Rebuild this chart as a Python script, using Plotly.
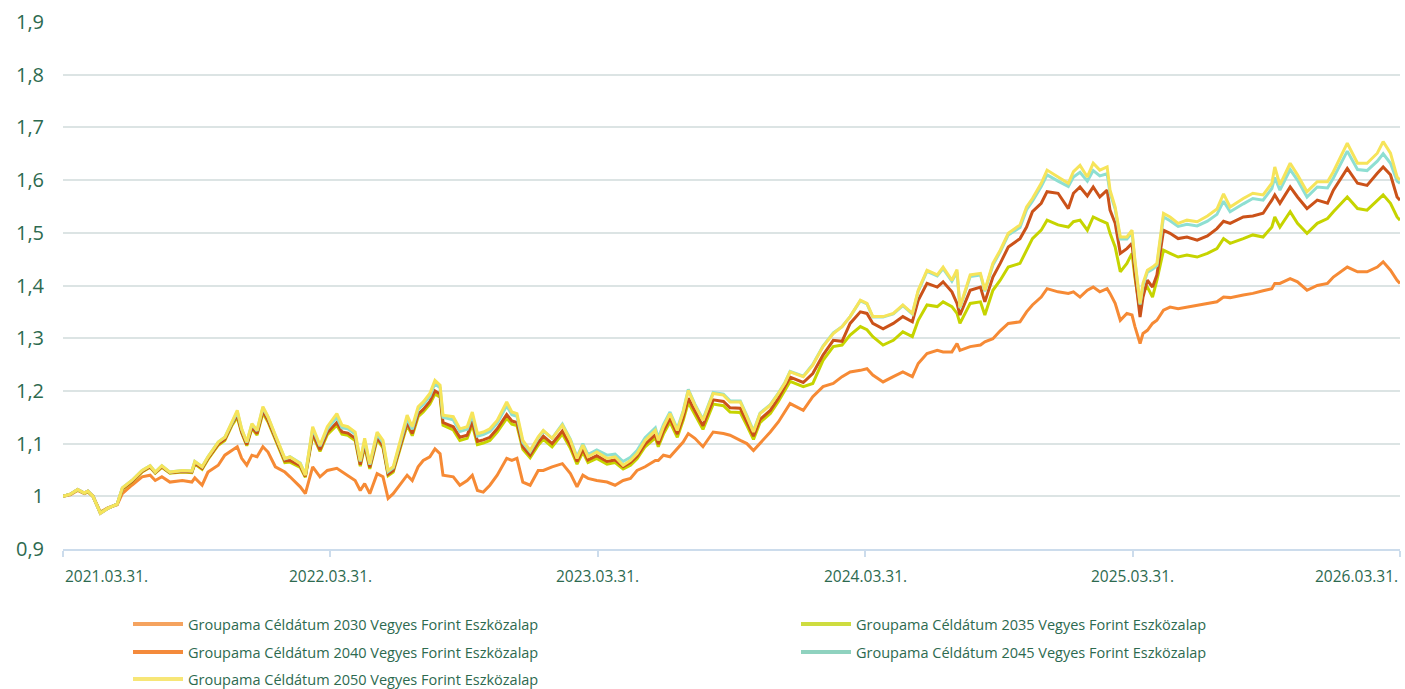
import plotly.graph_objects as go

dates = [
    "2021-03-31", "2021-04-10", "2021-04-20", "2021-04-29", "2021-05-04", "2021-05-11", "2021-05-21", "2021-05-31",
    "2021-06-13", "2021-06-20", "2021-07-03", "2021-07-17", "2021-07-28", "2021-08-04", "2021-08-13", "2021-08-24",
    "2021-09-10", "2021-09-23", "2021-09-27", "2021-10-07", "2021-10-15", "2021-10-29", "2021-11-07", "2021-11-17",
    "2021-11-24", "2021-11-30", "2021-12-07", "2021-12-14", "2021-12-21", "2021-12-29", "2022-01-05", "2022-01-15",
    "2022-01-28", "2022-02-04", "2022-02-18", "2022-02-25", "2022-03-07", "2022-03-17", "2022-03-27", "2022-04-09",
    "2022-04-16", "2022-04-24", "2022-05-04", "2022-05-11", "2022-05-17", "2022-05-24", "2022-06-03", "2022-06-11",
    "2022-06-18", "2022-06-25", "2022-07-04", "2022-07-14", "2022-07-21", "2022-07-29", "2022-08-05", "2022-08-14",
    "2022-08-21", "2022-08-28", "2022-09-01", "2022-09-15", "2022-09-24", "2022-10-04", "2022-10-11", "2022-10-18",
    "2022-10-26", "2022-11-04", "2022-11-14", "2022-11-27", "2022-12-04", "2022-12-11", "2022-12-19", "2022-12-29",
    "2023-01-09", "2023-01-16", "2023-01-28", "2023-02-11", "2023-02-22", "2023-03-03", "2023-03-11", "2023-03-18",
    "2023-03-30", "2023-04-13", "2023-04-24", "2023-05-05", "2023-05-15", "2023-05-24", "2023-06-04", "2023-06-18",
    "2023-06-22", "2023-06-29", "2023-07-08", "2023-07-18", "2023-07-26", "2023-08-02", "2023-08-11", "2023-08-22",
    "2023-09-05", "2023-09-19", "2023-09-28", "2023-10-12", "2023-10-21", "2023-10-30", "2023-11-08", "2023-11-22",
    "2023-12-03", "2023-12-12", "2023-12-19", "2024-01-06", "2024-01-19", "2024-02-02", "2024-02-16", "2024-02-28",
    "2024-03-10", "2024-03-24", "2024-04-02", "2024-04-10", "2024-04-24", "2024-05-08", "2024-05-21", "2024-06-03",
    "2024-06-11", "2024-06-23", "2024-07-07", "2024-07-15", "2024-07-27", "2024-08-03", "2024-08-07", "2024-08-21",
    "2024-09-04", "2024-09-10", "2024-09-21", "2024-10-01", "2024-10-12", "2024-10-28", "2024-11-06", "2024-11-14",
    "2024-11-26", "2024-12-04", "2024-12-19", "2025-01-02", "2025-01-09", "2025-01-18", "2025-01-28", "2025-02-05",
    "2025-02-14", "2025-02-24", "2025-02-28", "2025-03-07", "2025-03-14", "2025-03-23", "2025-03-30", "2025-04-03",
    "2025-04-10", "2025-04-14", "2025-04-20", "2025-04-27", "2025-05-03", "2025-05-12", "2025-05-21", "2025-06-01",
    "2025-06-13", "2025-06-27", "2025-07-11", "2025-07-24", "2025-08-02", "2025-08-11", "2025-08-29", "2025-09-11",
    "2025-09-25", "2025-10-07", "2025-10-11", "2025-10-18", "2025-11-01", "2025-11-11", "2025-11-24", "2025-12-08",
    "2025-12-22", "2025-12-30", "2026-01-18", "2026-02-01", "2026-02-14", "2026-02-28", "2026-03-08", "2026-03-18",
    "2026-03-27", "2026-03-31",
]

s2050 = [
    1.000, 1.004, 1.013, 1.006, 1.010, 1.000, 0.968, 0.977,
    0.985, 1.016, 1.030, 1.049, 1.058, 1.046, 1.058, 1.046,
    1.049, 1.048, 1.066, 1.056, 1.075, 1.103, 1.112, 1.144,
    1.163, 1.128, 1.103, 1.138, 1.125, 1.170, 1.151, 1.116,
    1.072, 1.075, 1.062, 1.040, 1.132, 1.097, 1.132, 1.157,
    1.135, 1.132, 1.122, 1.068, 1.110, 1.062, 1.122, 1.106,
    1.049, 1.056, 1.100, 1.154, 1.132, 1.170, 1.179, 1.195,
    1.220, 1.211, 1.154, 1.151, 1.128, 1.132, 1.160, 1.119,
    1.122, 1.128, 1.144, 1.179, 1.160, 1.157, 1.106, 1.087,
    1.113, 1.125, 1.110, 1.135, 1.106, 1.072, 1.097, 1.075,
    1.084, 1.072, 1.075, 1.059, 1.068, 1.081, 1.106, 1.125,
    1.106, 1.132, 1.157, 1.125, 1.160, 1.201, 1.173, 1.144,
    1.195, 1.192, 1.179, 1.179, 1.151, 1.122, 1.157, 1.173,
    1.195, 1.215, 1.236, 1.227, 1.249, 1.284, 1.309, 1.322,
    1.341, 1.372, 1.366, 1.341, 1.341, 1.347, 1.363, 1.347,
    1.391, 1.429, 1.420, 1.435, 1.410, 1.430, 1.359, 1.420,
    1.423, 1.391, 1.442, 1.467, 1.499, 1.515, 1.549, 1.565,
    1.594, 1.619, 1.606, 1.594, 1.616, 1.628, 1.606, 1.632,
    1.619, 1.625, 1.581, 1.549, 1.492, 1.492, 1.505, 1.448,
    1.366, 1.404, 1.429, 1.435, 1.442, 1.537, 1.530, 1.518,
    1.524, 1.521, 1.532, 1.545, 1.574, 1.549, 1.565, 1.575,
    1.572, 1.594, 1.625, 1.591, 1.632, 1.610, 1.578, 1.597,
    1.597, 1.616, 1.670, 1.632, 1.632, 1.651, 1.673, 1.651,
    1.606, 1.600,
]

s2045 = [
    1.000, 1.004, 1.013, 1.006, 1.010, 1.000, 0.968, 0.977,
    0.985, 1.016, 1.030, 1.049, 1.058, 1.046, 1.058, 1.046,
    1.049, 1.048, 1.066, 1.056, 1.075, 1.103, 1.112, 1.142,
    1.160, 1.127, 1.102, 1.137, 1.124, 1.168, 1.150, 1.115,
    1.071, 1.075, 1.063, 1.041, 1.128, 1.095, 1.128, 1.150,
    1.130, 1.128, 1.118, 1.066, 1.106, 1.060, 1.118, 1.102,
    1.047, 1.054, 1.097, 1.148, 1.127, 1.165, 1.174, 1.190,
    1.214, 1.206, 1.150, 1.145, 1.123, 1.127, 1.154, 1.114,
    1.117, 1.123, 1.139, 1.172, 1.155, 1.152, 1.102, 1.085,
    1.111, 1.124, 1.110, 1.137, 1.108, 1.075, 1.100, 1.079,
    1.088, 1.078, 1.080, 1.066, 1.074, 1.087, 1.111, 1.130,
    1.111, 1.136, 1.160, 1.128, 1.162, 1.203, 1.175, 1.146,
    1.197, 1.194, 1.181, 1.181, 1.153, 1.124, 1.158, 1.174,
    1.196, 1.216, 1.237, 1.228, 1.250, 1.285, 1.310, 1.322,
    1.341, 1.371, 1.365, 1.340, 1.340, 1.346, 1.362, 1.346,
    1.389, 1.427, 1.418, 1.432, 1.408, 1.425, 1.357, 1.417,
    1.420, 1.389, 1.439, 1.464, 1.496, 1.510, 1.544, 1.560,
    1.588, 1.610, 1.598, 1.588, 1.606, 1.615, 1.598, 1.618,
    1.608, 1.612, 1.575, 1.545, 1.488, 1.488, 1.500, 1.445,
    1.364, 1.400, 1.425, 1.431, 1.438, 1.530, 1.523, 1.512,
    1.516, 1.513, 1.522, 1.535, 1.560, 1.540, 1.555, 1.565,
    1.562, 1.584, 1.605, 1.581, 1.620, 1.600, 1.568, 1.587,
    1.585, 1.604, 1.655, 1.620, 1.618, 1.636, 1.650, 1.632,
    1.598, 1.594,
]

s2040 = [
    1.000, 1.004, 1.013, 1.006, 1.010, 1.000, 0.968, 0.977,
    0.985, 1.014, 1.028, 1.047, 1.056, 1.045, 1.056, 1.045,
    1.047, 1.046, 1.063, 1.053, 1.072, 1.099, 1.108, 1.138,
    1.154, 1.122, 1.098, 1.132, 1.119, 1.162, 1.144, 1.110,
    1.067, 1.068, 1.058, 1.038, 1.120, 1.088, 1.121, 1.140,
    1.122, 1.120, 1.110, 1.060, 1.098, 1.055, 1.112, 1.095,
    1.042, 1.049, 1.090, 1.140, 1.119, 1.156, 1.165, 1.180,
    1.200, 1.194, 1.140, 1.132, 1.112, 1.116, 1.142, 1.104,
    1.107, 1.112, 1.128, 1.155, 1.143, 1.140, 1.094, 1.078,
    1.102, 1.114, 1.100, 1.124, 1.097, 1.066, 1.089, 1.069,
    1.077, 1.066, 1.069, 1.056, 1.064, 1.076, 1.099, 1.117,
    1.099, 1.124, 1.148, 1.118, 1.150, 1.186, 1.162, 1.134,
    1.183, 1.180, 1.168, 1.167, 1.141, 1.114, 1.146, 1.163,
    1.186, 1.207, 1.226, 1.216, 1.233, 1.268, 1.296, 1.294,
    1.328, 1.350, 1.347, 1.328, 1.318, 1.328, 1.341, 1.331,
    1.372, 1.404, 1.397, 1.407, 1.388, 1.366, 1.344, 1.391,
    1.397, 1.369, 1.416, 1.442, 1.473, 1.489, 1.511, 1.540,
    1.556, 1.578, 1.575, 1.546, 1.575, 1.587, 1.570, 1.587,
    1.568, 1.581, 1.543, 1.518, 1.461, 1.470, 1.480, 1.422,
    1.340, 1.378, 1.410, 1.397, 1.420, 1.505, 1.499, 1.489,
    1.492, 1.486, 1.494, 1.508, 1.522, 1.518, 1.530, 1.532,
    1.537, 1.562, 1.572, 1.556, 1.587, 1.568, 1.546, 1.562,
    1.556, 1.581, 1.622, 1.594, 1.590, 1.613, 1.625, 1.610,
    1.568, 1.562,
]

s2035 = [
    1.000, 1.004, 1.012, 1.006, 1.009, 1.000, 0.969, 0.977,
    0.985, 1.013, 1.027, 1.046, 1.055, 1.044, 1.055, 1.044,
    1.046, 1.045, 1.061, 1.051, 1.070, 1.097, 1.106, 1.135,
    1.150, 1.120, 1.096, 1.129, 1.116, 1.158, 1.141, 1.107,
    1.064, 1.065, 1.055, 1.036, 1.116, 1.085, 1.117, 1.135,
    1.118, 1.116, 1.106, 1.057, 1.094, 1.052, 1.108, 1.092,
    1.039, 1.046, 1.086, 1.135, 1.115, 1.151, 1.160, 1.175,
    1.194, 1.188, 1.135, 1.126, 1.106, 1.110, 1.136, 1.098,
    1.101, 1.106, 1.122, 1.148, 1.137, 1.134, 1.089, 1.073,
    1.097, 1.108, 1.094, 1.118, 1.091, 1.061, 1.084, 1.064,
    1.072, 1.061, 1.064, 1.052, 1.059, 1.071, 1.094, 1.111,
    1.094, 1.118, 1.141, 1.112, 1.144, 1.178, 1.155, 1.127,
    1.175, 1.172, 1.160, 1.159, 1.134, 1.108, 1.140, 1.157,
    1.180, 1.200, 1.218, 1.208, 1.214, 1.258, 1.284, 1.287,
    1.306, 1.322, 1.316, 1.303, 1.287, 1.296, 1.312, 1.303,
    1.334, 1.363, 1.360, 1.369, 1.360, 1.347, 1.328, 1.366,
    1.369, 1.344, 1.391, 1.410, 1.435, 1.442, 1.467, 1.489,
    1.505, 1.524, 1.515, 1.511, 1.521, 1.524, 1.505, 1.530,
    1.524, 1.518, 1.499, 1.473, 1.426, 1.442, 1.461, 1.415,
    1.353, 1.390, 1.397, 1.378, 1.410, 1.467, 1.461, 1.454,
    1.458, 1.454, 1.461, 1.470, 1.489, 1.480, 1.489, 1.496,
    1.492, 1.511, 1.530, 1.511, 1.540, 1.518, 1.499, 1.518,
    1.527, 1.540, 1.568, 1.546, 1.543, 1.562, 1.572, 1.556,
    1.530, 1.524,
]

s2030 = [
    1.000, 1.003, 1.011, 1.005, 1.008, 1.000, 0.970, 0.978,
    0.984, 1.005, 1.021, 1.037, 1.040, 1.030, 1.037, 1.027,
    1.030, 1.027, 1.035, 1.021, 1.046, 1.059, 1.078, 1.087,
    1.094, 1.072, 1.059, 1.078, 1.075, 1.094, 1.084, 1.056,
    1.046, 1.037, 1.018, 1.005, 1.056, 1.037, 1.049, 1.053,
    1.047, 1.040, 1.030, 1.011, 1.024, 1.005, 1.043, 1.037,
    0.996, 1.005, 1.021, 1.040, 1.030, 1.056, 1.068, 1.075,
    1.090, 1.081, 1.040, 1.037, 1.021, 1.030, 1.040, 1.011,
    1.008, 1.021, 1.040, 1.072, 1.068, 1.072, 1.027, 1.021,
    1.049, 1.049, 1.056, 1.062, 1.043, 1.018, 1.040, 1.034,
    1.030, 1.027, 1.021, 1.030, 1.034, 1.049, 1.056, 1.068,
    1.068, 1.078, 1.075, 1.090, 1.103, 1.119, 1.110, 1.094,
    1.122, 1.119, 1.116, 1.106, 1.100, 1.087, 1.100, 1.122,
    1.141, 1.160, 1.176, 1.163, 1.189, 1.208, 1.214, 1.227,
    1.236, 1.239, 1.242, 1.230, 1.217, 1.227, 1.236, 1.227,
    1.252, 1.271, 1.277, 1.274, 1.274, 1.290, 1.277, 1.284,
    1.287, 1.293, 1.299, 1.314, 1.328, 1.331, 1.350, 1.363,
    1.378, 1.394, 1.388, 1.385, 1.388, 1.378, 1.391, 1.397,
    1.388, 1.394, 1.385, 1.366, 1.334, 1.347, 1.344, 1.322,
    1.290, 1.309, 1.315, 1.328, 1.334, 1.353, 1.359, 1.356,
    1.359, 1.363, 1.366, 1.369, 1.378, 1.377, 1.382, 1.385,
    1.390, 1.394, 1.404, 1.404, 1.413, 1.407, 1.391, 1.400,
    1.404, 1.416, 1.435, 1.426, 1.426, 1.435, 1.445, 1.429,
    1.410, 1.404,
]

series_names = [
    "Groupama Céldátum 2030 Vegyes Forint Eszközalap",
    "Groupama Céldátum 2035 Vegyes Forint Eszközalap",
    "Groupama Céldátum 2040 Vegyes Forint Eszközalap",
    "Groupama Céldátum 2045 Vegyes Forint Eszközalap",
    "Groupama Céldátum 2050 Vegyes Forint Eszközalap",
]
series_values = [s2030, s2035, s2040, s2045, s2050]
line_colors = ["#F68A35", "#C6D400", "#CB5219", "#8EDFD2", "#F6E45A"]
legend_colors = ["#F5A35F", "#CEDC3F", "#F48A3B", "#8FD2BF", "#F7E677"]

tick_dates = ["2021-03-31", "2022-03-31", "2023-03-31", "2024-03-31", "2025-03-31", "2026-03-31"]
tick_labels = ["2021.03.31.", "2022.03.31.", "2023.03.31.", "2024.03.31.", "2025.03.31.", "2026.03.31."]

TXT = "#2D6A4F"
FONT = "Open Sans"

PLOT_L, PLOT_R, PLOT_T, PLOT_B = 63, 1400, 22, 549
W = PLOT_R - PLOT_L
H = PLOT_B - PLOT_T

def ypaper(px):
    return (PLOT_B - px) / H

def xpaper(px):
    return (px - PLOT_L) / W

fig = go.Figure()
for name, vals, col in zip(series_names, series_values, line_colors):
    fig.add_trace(go.Scatter(x=dates, y=vals, mode="lines", name=name,
                             line=dict(color=col, width=3), showlegend=False,
                             hoverinfo="x+y"))

# legend: two columns, three rows, one legend box per entry
legend_ids = ["legend", "legend2", "legend3", "legend4", "legend5"]
legend_pos = [(128, 624), (796, 624), (128, 652), (796, 652), (128, 679)]
for name, col, lid in zip(series_names, legend_colors, legend_ids):
    fig.add_trace(go.Scatter(x=[None], y=[None], mode="lines", name=name,
                             line=dict(color=col, width=4), showlegend=True, legend=lid))

legend_layout = {}
for lid, (lx, ly) in zip(legend_ids, legend_pos):
    legend_layout[lid] = dict(orientation="h", xanchor="left", yanchor="middle",
                              x=xpaper(lx), y=ypaper(ly), bgcolor="rgba(0,0,0,0)",
                              borderwidth=0, font=dict(family=FONT, size=14.5, color=TXT),
                              itemwidth=50)

annotations = []
for i, (d, lab) in enumerate(zip(tick_dates, tick_labels)):
    anchor = "left" if i == 0 else ("right" if i == len(tick_dates) - 1 else "center")
    annotations.append(dict(x=d, y=ypaper(576), xref="x", yref="paper", text=lab,
                            showarrow=False, xanchor=anchor, yanchor="middle",
                            font=dict(family=FONT, size=15.5, color=TXT)))

fig.update_layout(
    width=1405, height=689, autosize=False,
    margin=dict(l=PLOT_L, r=1405 - PLOT_R, t=PLOT_T, b=689 - PLOT_B, autoexpand=False),
    paper_bgcolor="white", plot_bgcolor="white",
    separators=", ",
    font=dict(family=FONT, color=TXT),
    xaxis=dict(type="date", range=["2021-03-31", "2026-03-31"], tickvals=tick_dates,
               showticklabels=False, showgrid=False, zeroline=False,
               showline=True, linecolor="#CCDCEC", linewidth=2,
               ticks="outside", ticklen=6, tickcolor="#CCDCEC", tickwidth=2),
    yaxis=dict(range=[0.9, 1.9], dtick=0.1, tick0=0.9, showgrid=True, gridcolor="#DCE4E4",
               gridwidth=1.5, zeroline=False, showline=False,
               tickfont=dict(family=FONT, size=20, color=TXT), ticklabelstandoff=18),
    annotations=annotations,
    hovermode="x",
    **legend_layout,
)

fig.write_html("out.html", config={"displayModeBar": False},
               post_script="document.body.style.margin='0';")
